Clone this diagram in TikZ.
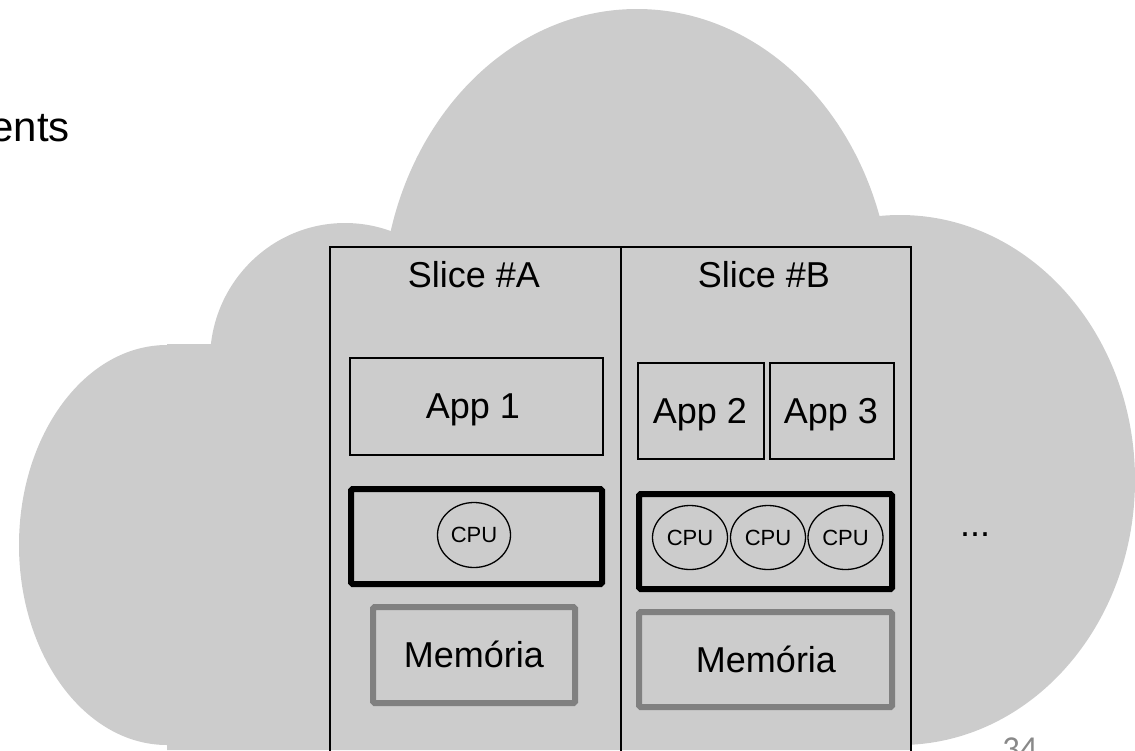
\documentclass[tikz,border=0pt]{standalone}
\usepackage{fontspec}
\setmainfont{Liberation Sans}
\newfontfamily\pagenumfont{Carlito}
\usetikzlibrary{shapes.geometric}
\definecolor{cloudgray}{RGB}{204,204,204}
\definecolor{memgray}{RGB}{128,128,128}
\definecolor{pagegray}{RGB}{137,137,137}

\begin{document}
\begin{tikzpicture}[x=1pt,y=-1pt,
  lbl/.style={font=\fontsize{36}{40}\selectfont, inner sep=0pt, anchor=base},
  slicecol/.style={draw, line width=1.6pt, minimum width=#1, minimum height=523pt, inner sep=0pt},
  appbox/.style={draw, line width=1.5pt, inner sep=0pt},
  cpubox/.style={draw, line width=6pt, rounded corners=1.5pt, inner sep=0pt},
  membox/.style={draw=memgray, line width=6pt, rounded corners=1.5pt, inner sep=0pt},
  cpu/.style={ellipse, draw, line width=1.3pt, inner sep=0pt,
              font=\fontsize{22}{24}\selectfont},
]
\useasboundingbox (0,0) rectangle (1135,750);
\clip (0,0) rectangle (1135,750);

% cloud built from overlapping lobes
\begin{scope}[fill=cloudgray]
  \fill (637,309) ellipse [x radius=255, y radius=300];
  \fill (345,360) ellipse [x radius=135, y radius=137];
  \fill (900,480) ellipse [x radius=235, y radius=265];
  \fill (167,545) ellipse [x radius=148, y radius=200];
  \fill (167,344) -- (300,344) -- (300,245) -- (911,245) -- (911,750) -- (167,750) -- cycle;
\end{scope}

% title fragment and page number
\node[font=\fontsize{42}{46}\selectfont, inner sep=0pt, anchor=base east] (title) at (70,141) {ents};
\node[font=\pagenumfont\fontsize{35}{38}\selectfont, text=pagegray, inner sep=0pt, anchor=base west] (pagenum) at (1002,760) {34};

% slice columns
\node[slicecol=291pt] (sliceA) at (475.5,508.5) {};
\node[slicecol=290pt] (sliceB) at (766,508.5) {};
\node[lbl] (sliceAlabel) at (474,287) {Slice \#A};
\node[lbl] (sliceBlabel) at (764,287) {Slice \#B};

% applications
\node[appbox, minimum width=253pt, minimum height=97pt] (app1) at (476.5,406.5) {};
\node[appbox, minimum width=126pt, minimum height=96pt] (app2) at (701,411) {};
\node[appbox, minimum width=124pt, minimum height=96pt] (app3) at (832,411) {};
\node[lbl] (app1label) at (473,418) {App 1};
\node[lbl] (app2label) at (700,423) {App 2};
\node[lbl] (app3label) at (831,423) {App 3};

% processors
\node[cpubox, minimum width=251pt, minimum height=95pt] (cpuboxA) at (476.5,536.5) {};
\node[cpubox, minimum width=253pt, minimum height=95pt] (cpuboxB) at (765.5,541.5) {};
\node[cpu, minimum width=73pt, minimum height=65pt] (cpuA) at (474,535) {CPU};
\node[cpu, minimum width=75pt, minimum height=64pt] (cpuB1) at (690,537.5) {CPU};
\node[cpu, minimum width=75pt, minimum height=64pt] (cpuB2) at (768,537.5) {CPU};
\node[cpu, minimum width=75pt, minimum height=64pt] (cpuB3) at (845.5,537.5) {CPU};

% memory
\node[membox, minimum width=202pt, minimum height=96pt] (memA) at (474,655) {};
\node[membox, minimum width=253pt, minimum height=95pt] (memB) at (765.5,659.5) {};
\node[lbl] (memAlabel) at (474,667) {Memória};
\node[lbl] (memBlabel) at (766,672) {Memória};

% more slices
\node[lbl] (more) at (975,536) {...};
\end{tikzpicture}
\end{document}
